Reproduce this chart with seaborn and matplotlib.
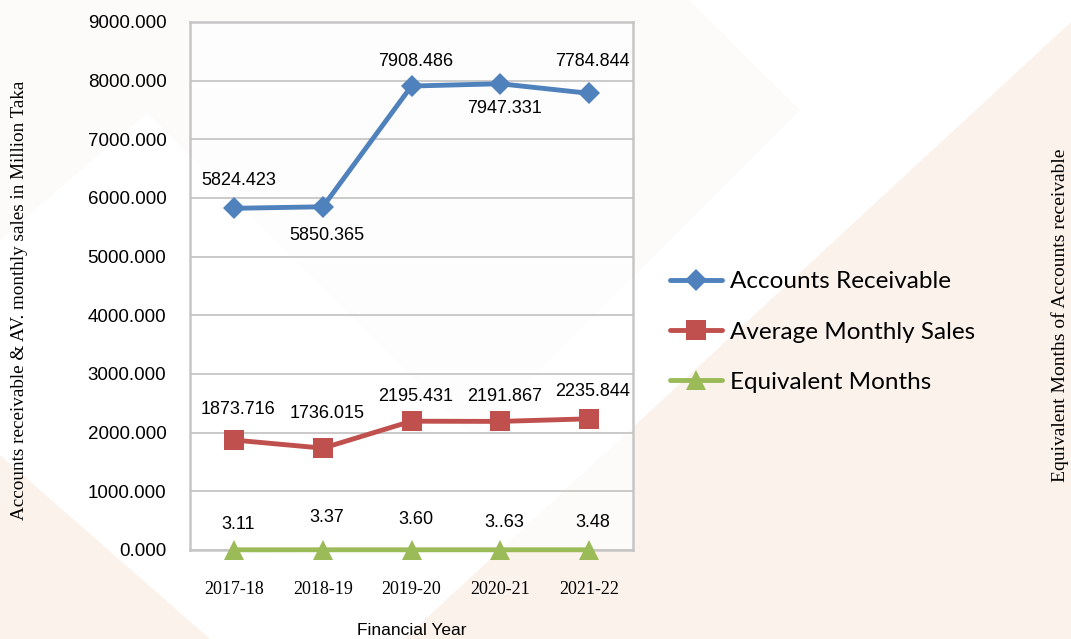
"""
Accounts receivable vs. average monthly sales, 2017-18 to 2021-22.
"""

import matplotlib
matplotlib.use("Agg")
import matplotlib.pyplot as plt
from matplotlib.patches import Polygon
from matplotlib.lines import Line2D
from matplotlib.ticker import FixedLocator, MultipleLocator, StrMethodFormatter
import pandas as pd
import seaborn as sns


# ---------------------------------------------------------------------------
# Data
# ---------------------------------------------------------------------------
years = ["2017-18", "2018-19", "2019-20", "2020-21", "2021-22"]
accounts_receivable = [5824.423, 5850.365, 7908.486, 7947.331, 7784.844]
avg_monthly_sales = [1873.716, 1736.015, 2195.431, 2191.867, 2235.844]
equivalent_months = [3.11, 3.37, 3.60, 3.63, 3.48]
equivalent_labels = ["3.11", "3.37", "3.60", "3..63", "3.48"]   # as printed

series_names = ["Accounts Receivable", "Average Monthly Sales", "Equivalent Months"]

# ---------------------------------------------------------------------------
# Style
# ---------------------------------------------------------------------------
BLUE, RED, GREEN = "#4F81BD", "#C0504D", "#9BBB59"
GRID = "#C6C6C6"
BEIGE = "#FBF2EB"
CREAM = "#FDFBF9"
SANS = "Liberation Sans"
SERIF = "Liberation Serif"

W, H = 1071, 639

sns.set_style("white")
plt.rcParams["font.family"] = [SANS, "DejaVu Sans"]
plt.rcParams["text.color"] = "black"
plt.rcParams["xtick.color"] = "black"
plt.rcParams["ytick.color"] = "black"
plt.rcParams["axes.labelcolor"] = "black"


def px(x, y):
    """pixel position -> figure fraction"""
    return (x / W, 1 - y / H)


df = pd.DataFrame({
    "year": years,
    "ar": accounts_receivable,
    "ams": avg_monthly_sales,
    "em": equivalent_months,
})

fig = plt.figure(figsize=(W / 100, H / 100), dpi=100)
fig.patch.set_facecolor("white")

# faint background decoration
shapes = [
    ([(147, 113), (473, -214), (800, 110), (473, 437)], CREAM),
    ([(0, 0), (260, 0), (147, 113), (0, 240)], CREAM),
    ([(1071, 22), (1071, 639), (404, 639)], BEIGE),
    ([(0, 455), (0, 639), (210, 639)], BEIGE),
]
for pts, col in shapes:
    fig.patches.append(Polygon([px(*p) for p in pts], closed=True,
                               transform=fig.transFigure, facecolor=col,
                               edgecolor="none", zorder=-5))

ax = fig.add_axes([190 / W, 1 - 550 / H, (633 - 190) / W, (550 - 22) / H])
ax.set_facecolor((1, 1, 1, 0.75))

sns.lineplot(data=df, x="year", y="ar", ax=ax, sort=False, color=BLUE, lw=3.5,
             marker="D", markersize=11, markeredgewidth=0)
sns.lineplot(data=df, x="year", y="ams", ax=ax, sort=False, color=RED, lw=3.5,
             marker="s", markersize=14, markeredgewidth=0)
sns.lineplot(data=df, x="year", y="em", ax=ax, sort=False, color=GREEN, lw=3.5,
             marker="^", markersize=15, markeredgewidth=0)
for ln in ax.lines:
    ln.set_clip_on(False)
    ln.set_zorder(4)

# data labels
ar_side = [20, -21, 18, -18, 23]
for i, v in enumerate(accounts_receivable):
    ax.annotate(f"{v:.3f}", (i, v), xytext=(3, ar_side[i]), textcoords="offset points",
                ha="center", va="center", fontsize=13, zorder=6)
ams_side = [22, 25, 18, 18, 20]
for i, v in enumerate(avg_monthly_sales):
    ax.annotate(f"{v:.3f}", (i, v), xytext=(3, ams_side[i]), textcoords="offset points",
                ha="center", va="center", fontsize=13, zorder=6)
em_side = [18, 23, 22, 20, 20]
for i, v in enumerate(equivalent_months):
    ax.annotate(equivalent_labels[i], (i, v), xytext=(3, em_side[i]),
                textcoords="offset points", ha="center", va="center",
                fontsize=13, zorder=6)

# axes
ax.set_xlim(-0.5, len(years) - 0.5)
ax.set_ylim(0, 9000)
ax.yaxis.set_major_locator(MultipleLocator(1000))
ax.yaxis.set_major_formatter(StrMethodFormatter("{x:.3f}"))
ax.set_xticks(range(len(years)))
ax.set_xticklabels(years, fontfamily=SERIF, fontsize=13)
ax.xaxis.set_minor_locator(FixedLocator([i - 0.5 for i in range(len(years) + 1)]))
ax.tick_params(axis="x", which="major", length=0, pad=22)
ax.tick_params(axis="x", which="minor", length=5, width=1.5, color=GRID)
ax.tick_params(axis="y", length=5, width=1.5, color=GRID, pad=12, labelsize=13.5)
ax.grid(axis="y", color=GRID, lw=1.3)
ax.set_axisbelow(True)
for sp in ax.spines.values():
    sp.set_color(GRID)
    sp.set_linewidth(1.8)

ax.set_xlabel("Financial Year", fontsize=12.5, labelpad=18)
ax.set_ylabel("")

fig.text(*px(20, 300), "Accounts receivable & AV. monthly sales in Million Taka",
         rotation=90, ha="center", va="center", fontfamily=SERIF, fontsize=13.8)
fig.text(*px(1060, 315), "Equivalent Months of Accounts receivable",
         rotation=90, ha="center", va="center", fontfamily=SERIF, fontsize=14)

# legend
handles = [
    Line2D([], [], color=BLUE, lw=3.5, marker="D", markersize=11, markeredgewidth=0),
    Line2D([], [], color=RED, lw=3.5, marker="s", markersize=14, markeredgewidth=0),
    Line2D([], [], color=GREEN, lw=3.5, marker="^", markersize=15, markeredgewidth=0),
]
fig.legend(handles, series_names, loc="center left", bbox_to_anchor=px(670, 332),
           frameon=False, borderpad=0, borderaxespad=0, handlelength=2.15,
           handletextpad=0.3, labelspacing=1.2,
           prop={"family": "Lato", "size": 17.5})

fig.savefig("out.png", dpi=100)
plt.close(fig)
